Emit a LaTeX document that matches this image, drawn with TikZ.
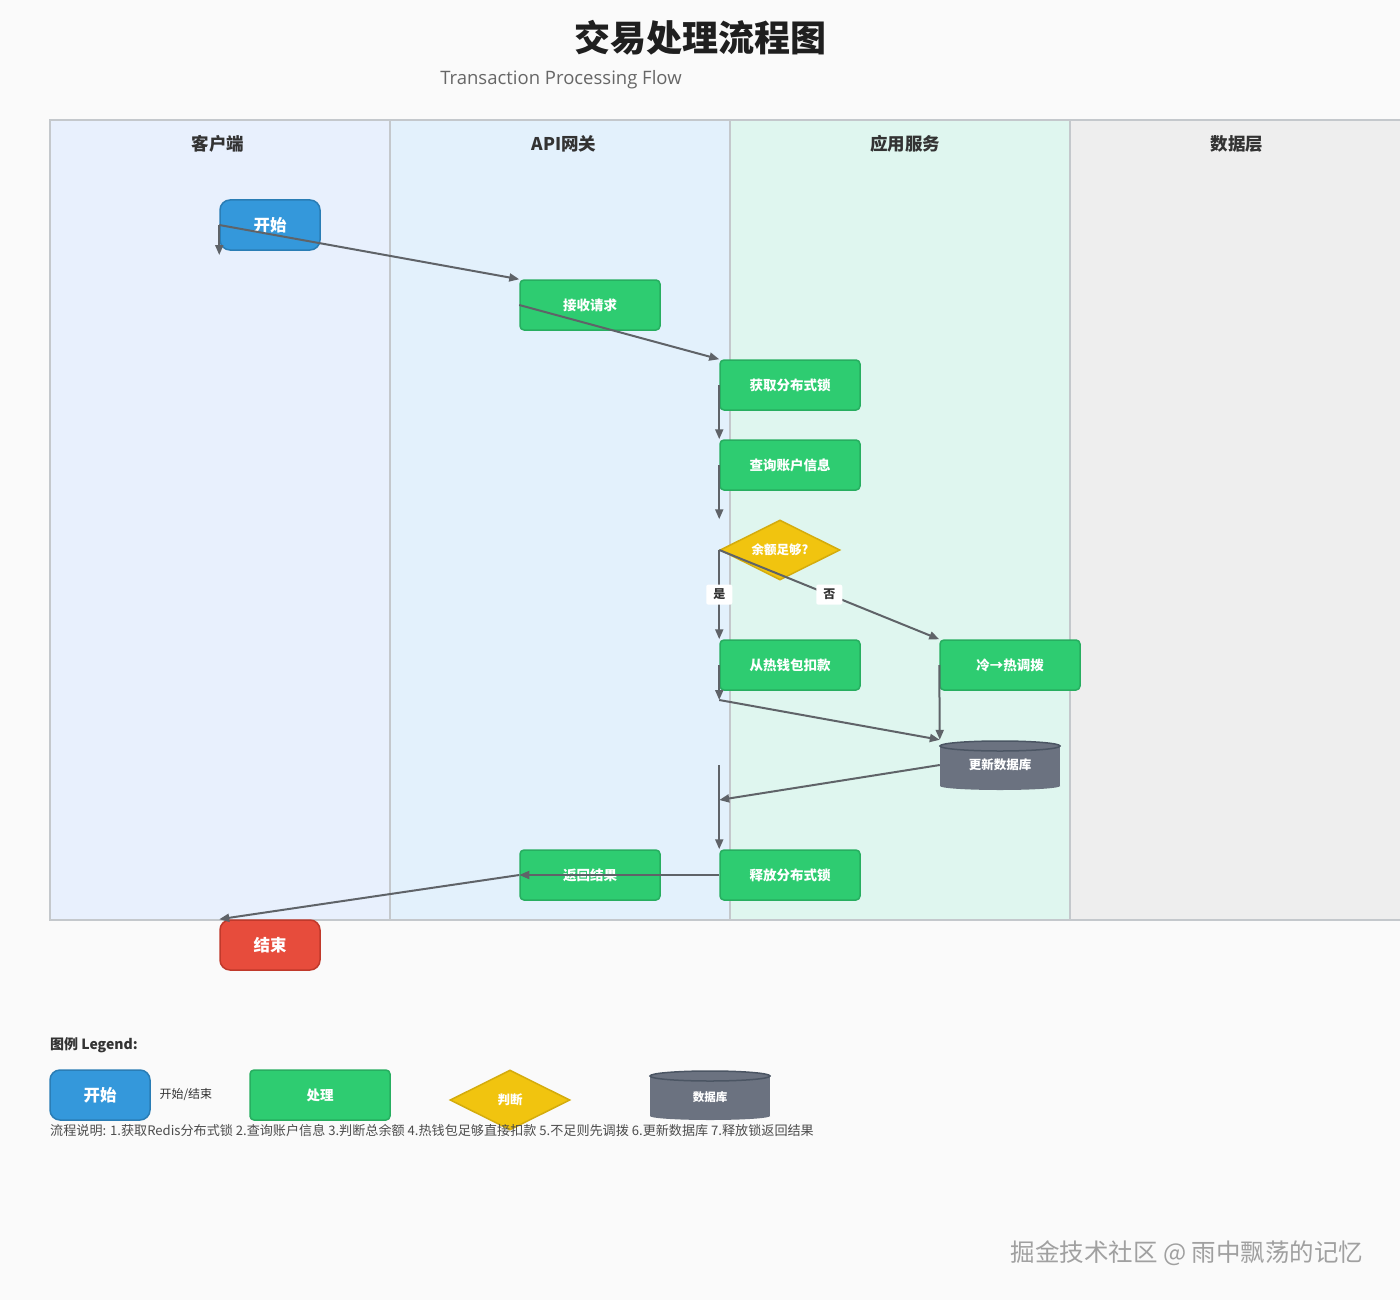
\documentclass[tikz,border=0pt]{standalone}
\usepackage{fontspec}
\setmainfont{Noto Sans CJK SC}
\newfontfamily\latinfont{Open Sans}
\usetikzlibrary{shapes.geometric, arrows.meta, positioning, calc}

\definecolor{PageGrey}{HTML}{FAFAFA}
\definecolor{LaneLine}{HTML}{C4C8CC}
\definecolor{ClientLane}{HTML}{E8F0FD}
\definecolor{GatewayLane}{HTML}{E3F1FC}
\definecolor{AppLane}{HTML}{DFF6EF}
\definecolor{DataLane}{HTML}{EEEEEE}
\definecolor{TitleGrey}{HTML}{333333}
\definecolor{SubGrey}{HTML}{666666}
\definecolor{StartBlue}{HTML}{3498DB}
\definecolor{StartLine}{HTML}{2A7DB5}
\definecolor{EndRed}{HTML}{E74C3C}
\definecolor{EndLine}{HTML}{C0392B}
\definecolor{ProcGreen}{HTML}{2ECC71}
\definecolor{ProcLine}{HTML}{27AE60}
\definecolor{DecYellow}{HTML}{F1C40F}
\definecolor{DecLine}{HTML}{D4AC0D}
\definecolor{DbGrey}{HTML}{6B7280}
\definecolor{DbLine}{HTML}{4B5563}
\definecolor{ArrowGrey}{HTML}{5F6368}
\definecolor{WaterGrey}{HTML}{A0A0A0}

% cylinder body for the database shapes, centred at (#1,#2)
\newcommand{\drawdb}[2]{%
  \fill[DbGrey] (#1-60,#2-19) rectangle (#1+60,#2+21);
  \fill[DbGrey] (#1,#2+21) ellipse [x radius=60pt, y radius=4pt];
  \filldraw[fill=DbGrey, draw=DbLine, line width=1.5pt] (#1,#2-19) ellipse [x radius=60pt, y radius=5pt];
}

\begin{document}
\begin{tikzpicture}[
        x=1pt, y=-1pt,
        lane/.style={draw=LaneLine, line width=1.2pt},
        lanetitle/.style={font=\fontsize{17.5}{20}\selectfont\bfseries, text=TitleGrey},
        startend/.style={rounded corners=10pt, minimum width=100pt, minimum height=50pt, inner sep=0pt, line width=1.5pt, text=white, font=\fontsize{16.5}{18}\selectfont\bfseries},
        proc/.style={draw=ProcLine, fill=ProcGreen, rounded corners=4pt, minimum width=140pt, minimum height=50pt, inner sep=0pt, line width=1.5pt, text=white, font=\fontsize{13.5}{16}\selectfont\bfseries},
        decision/.style={diamond, aspect=2, draw=DecLine, fill=DecYellow, minimum width=120pt, minimum height=60pt, inner sep=0pt, line width=1.5pt, text=white, font=\fontsize{12.5}{14}\selectfont\bfseries},
        dbtext/.style={minimum width=120pt, minimum height=50pt, inner sep=0pt, text=white, font=\fontsize{12.5}{14}\selectfont\bfseries},
        yesno/.style={fill=white, rounded corners=2pt, minimum width=26pt, minimum height=20pt, inner sep=0pt, text=TitleGrey, font=\fontsize{12}{14}\selectfont\bfseries},
        arr/.style={-{Triangle[length=10pt,width=8pt]}, line width=2pt, ArrowGrey}
    ]
        \useasboundingbox (0,0) rectangle (1400,1300);
        \fill[PageGrey] (0,0) rectangle (1400,1300);

        % title
        \node[font=\fontsize{36}{40}\selectfont\bfseries, text=black!88] (title) at (700,38) {交易处理流程图};
        \node[font=\latinfont\fontsize{18.5}{22}\selectfont, text=SubGrey] (subtitle) at (561,80) {Transaction Processing Flow};

        % swimlanes
        \filldraw[lane, fill=ClientLane] (50,120) rectangle (390,920);
        \filldraw[lane, fill=GatewayLane] (390,120) rectangle (730,920);
        \filldraw[lane, fill=AppLane] (730,120) rectangle (1070,920);
        \filldraw[lane, fill=DataLane] (1070,120) rectangle (1404,920);
        \node[lanetitle] (laneclient) at (218,144) {客户端};
        \node[lanetitle] (lanegateway) at (564,144) {API网关};
        \node[lanetitle] (laneapp) at (905,144) {应用服务};
        \node[lanetitle] (lanedata) at (1237,144) {数据层};

        % flow nodes
        \node[startend, draw=StartLine, fill=StartBlue] (start) at (270,225) {开始};
        \node[proc] (recv) at (590,305) {接收请求};
        \node[proc] (lock) at (790,385) {获取分布式锁};
        \node[proc] (query) at (790,465) {查询账户信息};
        \node[decision] (enough) at (780,550) {余额足够?};
        \node[proc] (hot) at (790,665) {从热钱包扣款};
        \node[proc] (cold) at (1010,665) {冷→热调拨};
        \drawdb{1000}{765}
        \node[dbtext] (db) at (1000,765) {更新数据库};
        \node[proc] (release) at (790,875) {释放分布式锁};
        \node[proc] (result) at (590,875) {返回结果};
        \node[startend, draw=EndLine, fill=EndRed] (end) at (270,945) {结束};

        \coordinate (startdrop) at ($(start.west)+(0,30)$);
        \coordinate (hotdrop) at ($(hot.west)+(0,35)$);
        \coordinate (dbjoin) at (release.west |- db.west);
        \coordinate (dbend) at ($(dbjoin)+(0,35)$);

        % connectors
        \draw[arr] (start.west) -- (startdrop);
        \draw[arr] (start.west) -- (recv.north west);
        \draw[arr] (recv.west) -- (lock.north west);
        \draw[arr] (lock.west) -- (query.north west);
        \draw[arr] (query.west) -- (enough.west |- enough.north);
        \draw[arr] (enough.west) -- node[yesno] (yes) {是} (hot.north west);
        \draw[arr] (enough.west) -- node[yesno] (no) {否} (cold.north west);
        \draw[arr] (hot.west) -- (hotdrop);
        \draw[arr] (hotdrop) -- (db.north west);
        \draw[arr] (cold.west) -- (db.north west);
        \draw[arr] (db.west) -- (dbend);
        \draw[arr] (dbjoin) -- (release.north west);
        \draw[arr] (release.west) -- (result.west);
        \draw[arr] (result.west) -- (end.north west);

        % legend
        \node[anchor=west, inner sep=0pt, font=\fontsize{14}{16}\selectfont\bfseries, text=TitleGrey] (legendtitle) at (50,1045) {图例 Legend:};
        \node[startend, draw=StartLine, fill=StartBlue] (legstart) at (100,1095) {开始};
        \node[anchor=west, font=\fontsize{12}{14}\selectfont, text=TitleGrey] (legstartlbl) at (156,1095) {开始/结束};
        \node[proc] (legproc) at (320,1095) {处理};
        \node[decision] (legdec) at (510,1100) {判断};
        \drawdb{710}{1095}
        \node[dbtext, font=\fontsize{11.5}{13}\selectfont\bfseries] (legdb) at (710,1097) {数据库};
        \node[anchor=west, inner sep=0pt, font=\fontsize{13.1}{15}\selectfont, text=black!70] (note) at (50,1130) {流程说明: 1.获取Redis分布式锁 2.查询账户信息 3.判断总余额 4.热钱包足够直接扣款 5.不足则先调拨 6.更新数据库 7.释放锁返回结果};

        % watermark
        \node[font=\fontsize{24.5}{28}\selectfont, text=WaterGrey] (watermark) at (1187,1253) {掘金技术社区 @ 雨中飘荡的记忆};
    \end{tikzpicture}
\end{document}
